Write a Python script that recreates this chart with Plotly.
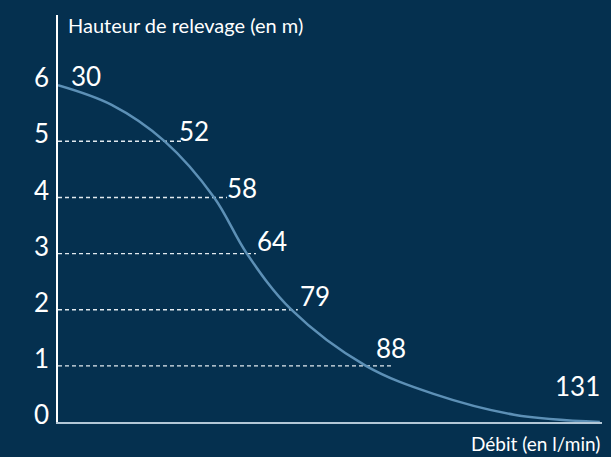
import plotly.graph_objects as go

# Pump curve: flow (l/min) vs head (m)
curve_flow = [30, 40.0, 49.9, 59.1, 65.2, 73.5, 87.4, 100.0, 115.0, 131]
curve_head = [6.0, 5.65, 5.0, 4.0, 3.0, 2.0, 1.0, 0.5, 0.13, 0.0]

# Labelled operating points
point_labels = ["30", "52", "58", "64", "79", "88", "131"]
point_flow = [32.6, 52.7, 61.7, 67.3, 75.3, 89.4, 131.4]
point_head = [6.0, 5.02, 4.0, 3.07, 2.09, 1.16, 0.48]

# Dashed guide lines (head level and where they stop, in l/min)
guide_head = [5, 4, 3, 2, 1]
guide_end_flow = [53.1, 61.5, 66.9, 74.7, 92.4]

y_ticks = [0, 1, 2, 3, 4, 5, 6]

BG = "#05304f"
FONT = "Lato"

fig = go.Figure()

for h, xe in zip(guide_head, guide_end_flow):
    fig.add_trace(go.Scatter(
        x=[30, xe], y=[h, h], mode="lines",
        line=dict(color="#e2e9ef", width=1.4, dash="4px,3px"),
        hoverinfo="skip", showlegend=False))

fig.add_trace(go.Scatter(
    x=curve_flow, y=curve_head, mode="lines",
    line=dict(color="#5d90b6", width=2.5, shape="spline", smoothing=1.0),
    showlegend=False))

for i, (lab, fx, hy) in enumerate(zip(point_labels, point_flow, point_head)):
    last = i == len(point_labels) - 1
    fig.add_annotation(
        x=fx, y=hy, text=lab, showarrow=False,
        xanchor="right" if last else "left", yanchor="bottom",
        yshift=-9, xshift=0 if last else -3,
        font=dict(family=FONT, size=26, color="white"))

fig.add_annotation(
    x=0, xref="paper", xshift=8, y=1, yref="paper", yshift=-10,
    text="Hauteur de relevage (en m)", showarrow=False,
    xanchor="left", yanchor="middle",
    font=dict(family=FONT, size=20, color="white"))

fig.add_annotation(
    x=1, xref="paper", y=0, yref="paper", yshift=-8,
    text="Débit (en l/min)", showarrow=False,
    xanchor="right", yanchor="top",
    font=dict(family=FONT, size=19, color="white"))

fig.update_layout(
    width=611, height=457,
    paper_bgcolor=BG, plot_bgcolor=BG,
    margin=dict(l=58, r=9, t=15, b=35),
    font=dict(family=FONT, color="white"),
)
fig.update_xaxes(
    range=[30, 131.4], showgrid=False, zeroline=False,
    showline=True, linecolor="#b3c7d6", linewidth=2,
    showticklabels=False, ticks="")
fig.update_yaxes(
    range=[0, 7.25], showgrid=False, zeroline=False,
    showline=True, linecolor="white", linewidth=1.5,
    tickvals=y_ticks, ticktext=[str(v) for v in y_ticks],
    ticks="", ticklabelstandoff=2, ticklabelshift=-7,
    tickfont=dict(family=FONT, size=26, color="white"))

fig.write_html("out.html", config={"displayModeBar": False},
               post_script="document.body.style.margin='0';")
